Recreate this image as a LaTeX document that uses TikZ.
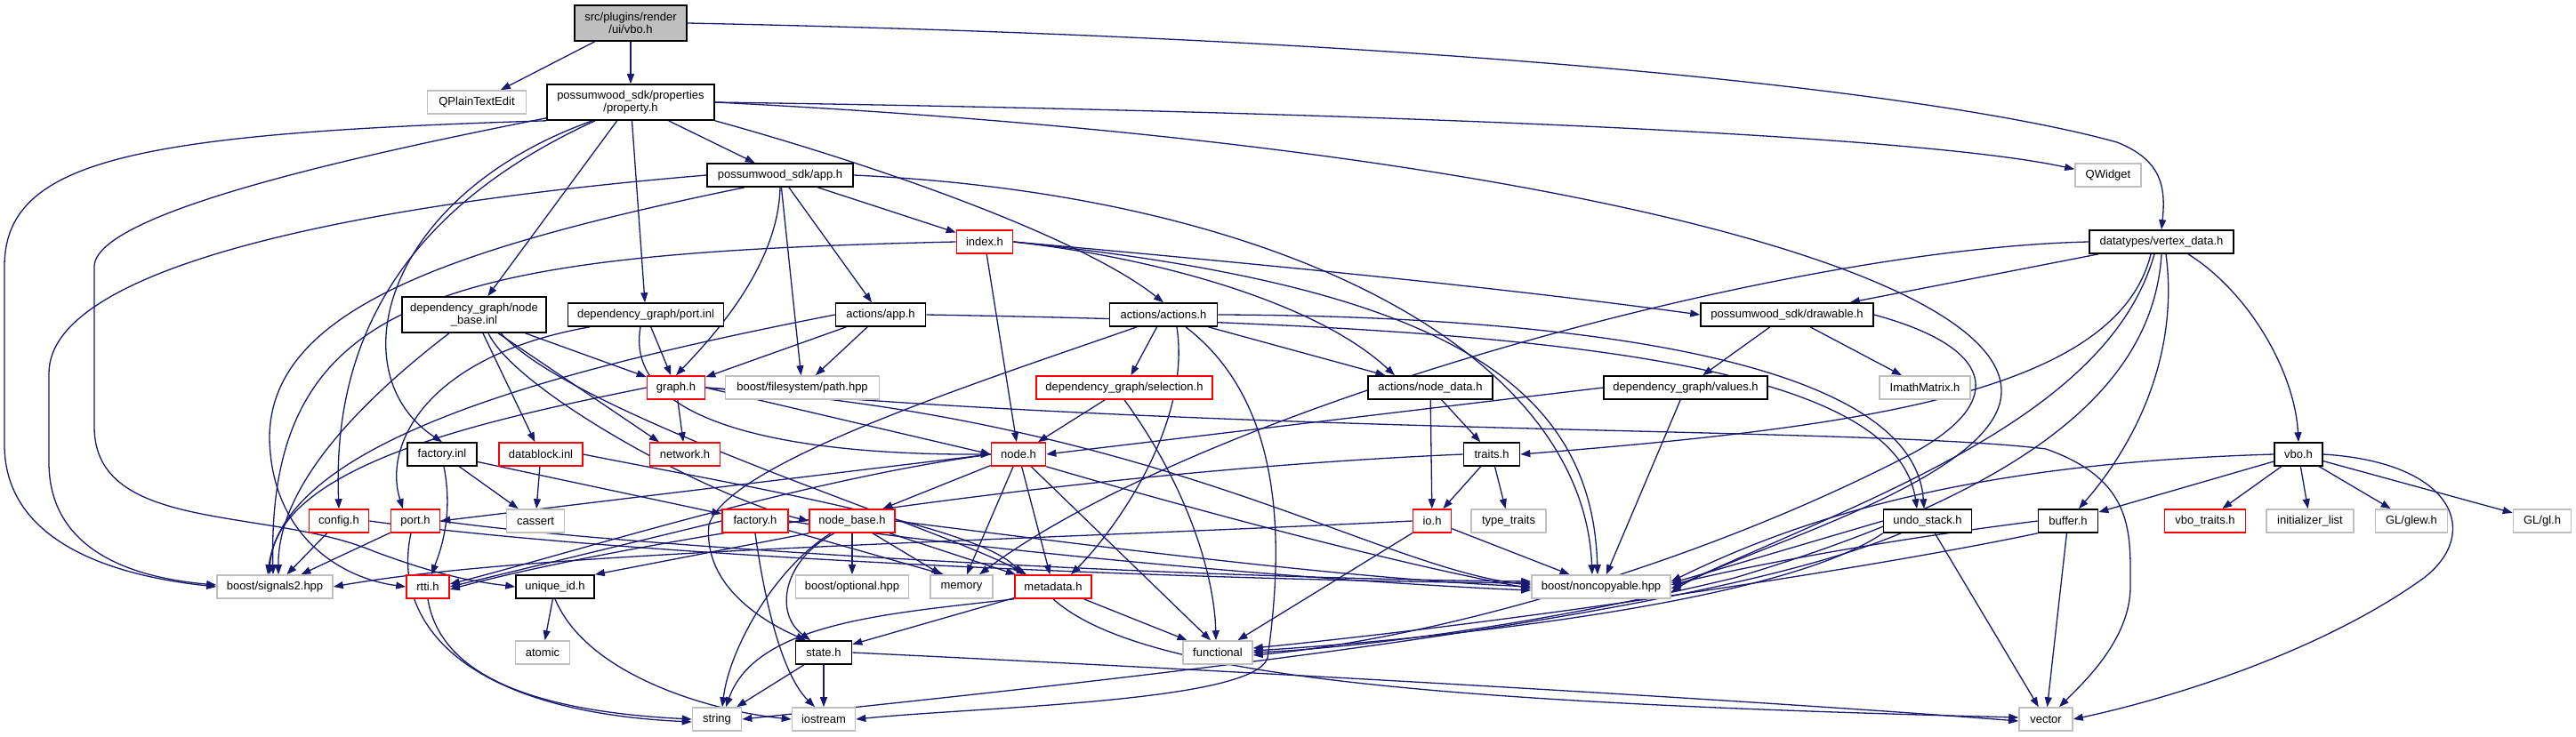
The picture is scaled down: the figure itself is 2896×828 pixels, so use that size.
\documentclass[tikz,border=0pt]{standalone}
\usepackage{fontspec}
\setmainfont{Liberation Sans}
\usetikzlibrary{arrows.meta}
\definecolor{edgec}{HTML}{191970}
\definecolor{extgray}{HTML}{BFBFBF}
\definecolor{srcfill}{HTML}{BFBFBF}
\pgfdeclarelayer{edgelayer}
\pgfsetlayers{edgelayer,main}
\begin{document}
\begin{tikzpicture}[x=1pt,y=-1pt,
  nb/.style={draw, line width=1.6pt, minimum height=26pt, inner sep=0pt, font=\fontsize{13}{14}\selectfont, align=center, fill=white},
  doc/.style={nb, draw=black},
  rbox/.style={nb, draw=red},
  ext/.style={nb, draw=extgray},
  two/.style={minimum height=40pt},
  edg/.style={draw=edgec, line width=1.3pt, -{Triangle[length=11pt,width=8pt]}},
]
\begin{pgfonlayer}{edgelayer}
\fill[white] (0,0) rectangle (2896,828);
\end{pgfonlayer}
\useasboundingbox (0,0) rectangle (2896,828);

% ---------- nodes ----------
\node[doc,two,fill=srcfill,minimum width=126pt] (src) at (709,26) {src/plugins/render\\/ui/vbo.h};
\node[ext,minimum width=111pt] (qpte) at (536,115) {QPlainTextEdit};
\node[doc,two,minimum width=188pt] (prop) at (709,115) {possumwood\_sdk/properties\\/property.h};
\node[ext,minimum width=74pt] (qw) at (2370,197) {QWidget};
\node[doc,minimum width=164pt] (app) at (877,197) {possumwood\_sdk/app.h};
\node[rbox,minimum width=63pt] (index) at (1107,272) {index.h};
\node[doc,minimum width=162pt] (vdata) at (2430,272) {datatypes/vertex\_data.h};
\node[doc,two,minimum width=162pt] (nbinl) at (533,354) {dependency\_graph/node\\\_base.inl};
\node[doc,minimum width=175pt] (portinl) at (726,354) {dependency\_graph/port.inl};
\node[doc,minimum width=101pt] (aapp) at (990,354) {actions/app.h};
\node[doc,minimum width=121pt] (aact) at (1308,354) {actions/actions.h};
\node[doc,minimum width=194pt] (draw) at (2009,354) {possumwood\_sdk/drawable.h};
\node[rbox,minimum width=65pt] (graph) at (760,436) {graph.h};
\node[ext,minimum width=173pt] (path) at (902,436) {boost/filesystem/path.hpp};
\node[rbox,minimum width=198pt] (sel) at (1264,436) {dependency\_graph/selection.h};
\node[doc,minimum width=140pt] (ndata) at (1608,436) {actions/node\_data.h};
\node[doc,minimum width=184pt] (values) at (1895,436) {dependency\_graph/values.h};
\node[ext,minimum width=102pt] (imath) at (2164,436) {ImathMatrix.h};
\node[doc,minimum width=78pt] (finl) at (497,511) {factory.inl};
\node[rbox,minimum width=94pt] (dblk) at (608,511) {datablock.inl};
\node[rbox,minimum width=79pt] (net) at (770,511) {network.h};
\node[rbox,minimum width=61pt] (nodeh) at (1145,511) {node.h};
\node[doc,minimum width=63pt] (traits) at (1677,511) {traits.h};
\node[doc,minimum width=54pt] (vboh) at (2584,511) {vbo.h};
\node[rbox,minimum width=67pt] (config) at (381,586) {config.h};
\node[rbox,minimum width=55pt] (porth) at (467,586) {port.h};
\node[ext,minimum width=65pt] (cassert) at (602,586) {cassert};
\node[rbox,minimum width=74pt] (facth) at (849,586) {factory.h};
\node[rbox,minimum width=96pt] (nbh) at (958,586) {node\_base.h};
\node[rbox,minimum width=43pt] (ioh) at (1610,586) {io.h};
\node[ext,minimum width=84pt] (tt) at (1696,586) {type\_traits};
\node[doc,minimum width=99pt] (undo) at (2167,586) {undo\_stack.h};
\node[doc,minimum width=67pt] (buffer) at (2325,586) {buffer.h};
\node[rbox,minimum width=91pt] (vbotr) at (2479,586) {vbo\_traits.h};
\node[ext,minimum width=98pt] (ilist) at (2597,586) {initializer\_list};
\node[ext,minimum width=81pt] (glew) at (2711,586) {GL/glew.h};
\node[ext,minimum width=65pt] (glh) at (2858,586) {GL/gl.h};
\node[ext,minimum width=130pt] (sig) at (309,660) {boost/signals2.hpp};
\node[rbox,minimum width=48pt] (rtti) at (481,660) {rtti.h};
\node[doc,minimum width=88pt] (uid) at (624,660) {unique\_id.h};
\node[ext,minimum width=127pt] (opt) at (958,660) {boost/optional.hpp};
\node[ext,minimum width=70pt] (mem) at (1081,660) {memory};
\node[rbox,minimum width=86pt] (meta) at (1184,660) {metadata.h};
\node[ext,minimum width=156pt] (nonc) at (1800,660) {boost/noncopyable.hpp};
\node[ext,minimum width=61pt] (atomic) at (610,734) {atomic};
\node[doc,minimum width=63pt] (nstate) at (926,734) {state.h};
\node[ext,minimum width=78pt] (func) at (1369,734) {functional};
\node[ext,minimum width=55pt] (nstring) at (806,809) {string};
\node[ext,minimum width=71pt] (iostr) at (926,809) {iostream};
\node[ext,minimum width=60pt] (vector) at (2300,809) {vector};

% ---------- edges ----------
\begin{pgfonlayer}{edgelayer}
% src
\draw[edg] (src) -- (qpte);
\draw[edg] (src) -- (prop);
\draw[edg] (src.east) .. controls (1700,45) and (2200,110) .. (2380,160) .. controls (2430,180) and (2435,210) .. (vdata.north);
% prop
\draw[edg] (prop.east) .. controls (1500,125) and (2150,150) .. (qw.170);
\draw[edg] (prop.east) .. controls (1700,160) and (2250,300) .. (2250,440) .. controls (2250,540) and (1950,620) .. ([yshift=-6pt]nonc.east);
\draw[edg] (prop) -- (app);
\draw[edg] (prop) -- (nbinl);
\draw[edg] (prop) -- (portinl);
\draw[edg] (prop.south east) .. controls (1000,190) and (1220,270) .. (aact.north);
\draw[edg] ([xshift=-43pt]prop.south) .. controls (430,220) and (380,420) .. (finl.north);
\draw[edg] ([xshift=-40pt]prop.south) .. controls (420,250) and (375,420) .. (config.north);
\draw[edg] (prop.south west) .. controls (150,150) and (5,180) .. (5,300) -- (5,500) .. controls (5,620) and (150,650) .. (sig.west);
\draw[edg] ([yshift=3pt]prop.south west) .. controls (400,175) and (106,240) .. (106,300) -- (106,480) .. controls (106,600) and (300,570) .. (420,620) .. controls (500,650) and (540,655) .. (uid.west);
% app
\draw[edg] (app) -- (index);
\draw[edg] (app) -- (aapp);
\draw[edg] (app.south) .. controls (875,300) and (800,380) .. (graph.north);
\draw[edg] (app) -- (path);
\draw[edg] (app.east) .. controls (1450,220) and (1780,400) .. ([xshift=-10pt]nonc.north);
\draw[edg] (app.west) .. controls (400,230) and (55,300) .. (55,420) -- (55,520) .. controls (55,620) and (150,650) .. ([yshift=2pt]sig.west);
\draw[edg] ([xshift=-40pt]app.south) .. controls (500,280) and (303,350) .. (303,493) .. controls (305,600) and (380,650) .. (rtti.west);
% index
\draw[edg] (index.west) .. controls (500,285) and (300,330) .. ([xshift=-2pt]sig.north);
\draw[edg] (index) -- (nodeh);
\draw[edg] (index.east) .. controls (1450,300) and (1700,325) .. (draw.west);
\draw[edg] (index.east) .. controls (1300,290) and (1480,340) .. ([xshift=-40pt]ndata.north);
\draw[edg] (index.east) .. controls (1600,320) and (1790,420) .. ([xshift=-4pt]nonc.north);
% node_base.inl
\draw[edg] ([xshift=-28pt]nbinl.south) .. controls (420,440) and (312,540) .. ([xshift=4pt]sig.north);
\draw[edg] (nbinl) -- (dblk);
\draw[edg] ([xshift=16pt]nbinl.south) .. controls (580,440) and (800,560) .. (nbh.west);
\draw[edg] ([xshift=27pt]nbinl.south) -- ([xshift=-29pt]net.north);
\draw[edg] (nbinl) -- (graph);
\draw[edg] ([xshift=30pt]nbinl.south) .. controls (650,470) and (1050,590) .. ([xshift=-30pt]meta.north);
% port.inl
\draw[edg] ([xshift=-63pt]portinl.south) .. controls (480,400) and (430,500) .. ([xshift=-14pt]porth.north);
\draw[edg] ([xshift=-6pt]portinl.south) .. controls (700,480) and (900,512) .. (nodeh.west);
\draw[edg] (portinl) -- (graph);
% actions/app.h
\draw[edg] (aapp.west) .. controls (600,420) and (320,500) .. ([xshift=-8pt]sig.north);
\draw[edg] (aapp) -- (graph);
\draw[edg] (aapp) -- (path);
\draw[edg] (aapp.east) .. controls (1700,365) and (2130,400) .. ([xshift=-12pt]undo.north);
% actions/actions.h
\draw[edg] (aact.east) .. controls (1700,355) and (2150,390) .. ([xshift=-4pt]undo.north);
\draw[edg] ([xshift=-30pt]aact.south) .. controls (1100,430) and (820,520) .. (797,590) .. controls (790,660) and (860,700) .. ([xshift=-20pt]nstate.north);
\draw[edg] (aact) -- (sel);
\draw[edg] (aact) -- (ndata);
\draw[edg] ([xshift=25pt]aact.south) .. controls (1440,450) and (1445,600) .. (1425,740) .. controls (1410,790) and (1100,795) .. (iostr.east);
\draw[edg] ([xshift=15pt]aact.south) .. controls (1340,480) and (1250,600) .. ([xshift=20pt]meta.north);
% drawable
\draw[edg] (draw) -- (values);
\draw[edg] (draw) -- (imath);
\draw[edg] (draw.east) .. controls (2240,390) and (2260,450) .. (2150,510) .. controls (1900,640) and (1600,720) .. ([yshift=-3pt]func.east);
% vertex_data
\draw[edg] (vdata) -- (draw);
\draw[edg] (vdata.west) .. controls (2000,280) and (1350,460) .. ([xshift=20pt]mem.north);
\draw[edg] ([xshift=-12pt]vdata.south) .. controls (2380,440) and (2100,480) .. (traits.east);
\draw[edg] ([xshift=-8pt]vdata.south) .. controls (2370,470) and (2100,560) .. ([yshift=-2pt]nonc.east);
\draw[edg] (vdata.south) .. controls (2420,450) and (2250,560) .. (1950,650) .. controls (1700,710) and (1500,730) .. (func.east);
\draw[edg] ([xshift=5pt]vdata.south) .. controls (2450,400) and (2400,500) .. ([xshift=12pt]buffer.north);
\draw[edg] ([xshift=30pt]vdata.south) .. controls (2530,330) and (2580,420) .. (vboh.north);
% graph
\draw[edg] (graph) -- (net);
\draw[edg] (graph.west) .. controls (560,470) and (310,520) .. ([xshift=-6pt]sig.north);
\draw[edg] (graph.east) -- (nodeh.west);
\draw[edg] (graph.east) .. controls (1300,470) and (1550,640) .. ([yshift=2pt]nonc.west);
\draw[edg] (graph.east) .. controls (1400,490) and (2100,480) .. (2300,505) .. controls (2400,540) and (2395,600) .. (2395,660) .. controls (2395,720) and (2340,770) .. ([xshift=15pt]vector.north);
% factory.inl
\draw[edg] (finl) -- (cassert);
\draw[edg] ([xshift=2pt]finl.south) .. controls (510,580) and (495,620) .. ([xshift=4pt]rtti.north);
\draw[edg] (finl) -- (facth);
% datablock.inl
\draw[edg] (dblk) -- (cassert);
\draw[edg] (dblk.east) .. controls (800,540) and (1100,590) .. ([xshift=-35pt]meta.north);
% node.h
\draw[edg] (nodeh) -- (nbh);
\draw[edg] (nodeh) -- (mem);
\draw[edg] (nodeh) -- (meta);
\draw[edg] (nodeh) -- ([xshift=-8pt]func.north);
\draw[edg] (nodeh.south east) .. controls (1400,590) and (1600,640) .. ([yshift=-2pt]nonc.west);
\draw[edg] (nodeh.west) -- (porth.east);
\draw[edg] (nodeh.west) .. controls (900,540) and (650,620) .. ([yshift=3pt]rtti.east);
% selection.h
\draw[edg] (sel) -- (nodeh);
\draw[edg] (sel.south) .. controls (1330,540) and (1365,640) .. ([xshift=-2pt]func.north);
% node_data.h, values.h, traits.h, io.h
\draw[edg] (ndata) -- (ioh);
\draw[edg] (ndata) -- (traits);
\draw[edg] (values.west) -- (nodeh.east);
\draw[edg] (values) -- (nonc);
\draw[edg] (traits) -- (ioh);
\draw[edg] (traits) -- (tt);
\draw[edg] (traits.west) .. controls (1200,530) and (700,610) .. ([yshift=-3pt]rtti.east);
\draw[edg] (ioh) -- (nonc);
\draw[edg] (ioh) -- (func);
\draw[edg] (ioh.west) .. controls (1100,610) and (600,620) .. (sig.east);
% config.h, port.h, rtti.h, unique_id.h
\draw[edg] (config) -- (sig);
\draw[edg] (config.east) .. controls (700,625) and (1300,652) .. ([yshift=4pt]nonc.west);
\draw[edg] (porth) -- (sig);
\draw[edg] (porth.east) .. controls (700,615) and (1300,650) .. ([yshift=6pt]nonc.west);
\draw[edg] ([xshift=-5pt]porth.south) .. controls (440,700) and (520,800) .. ([yshift=-3pt]nstring.west);
\draw[edg] (rtti.south) .. controls (495,760) and (600,800) .. (nstring.west);
\draw[edg] (uid) -- (atomic);
\draw[edg] (uid.south) .. controls (660,760) and (800,800) .. (iostr.west);
% factory.h
\draw[edg] (facth.west) -- (rtti.east);
\draw[edg] (facth.south) .. controls (860,680) and (880,760) .. ([xshift=-10pt]iostr.north);
\draw[edg] (facth) -- ([xshift=-20pt]mem.north);
\draw[edg] (facth.east) .. controls (1100,620) and (1500,655) .. ([yshift=-4pt]nonc.west);
% node_base.h
\draw[edg] (nbh) -- (opt);
\draw[edg] (nbh) -- (mem);
\draw[edg] (nbh) -- (meta);
\draw[edg] (nbh.east) .. controls (1200,610) and (1500,650) .. (nonc.west);
\draw[edg] (nbh.south west) -- (uid.north east);
\draw[edg] ([xshift=-20pt]nbh.south) .. controls (880,630) and (870,690) .. ([xshift=-15pt]nstate.north);
\draw[edg] ([xshift=-24pt]nbh.south) .. controls (870,640) and (820,730) .. ([xshift=6pt]nstring.north);
% metadata.h
\draw[edg] (meta) -- (nstate);
\draw[edg] (meta.south west) .. controls (1000,690) and (850,700) .. ([xshift=10pt]nstring.north);
\draw[edg] (meta) -- (func);
\draw[edg] (meta.south) .. controls (1280,760) and (1600,790) .. ([yshift=2pt]vector.west);
% state.h
\draw[edg] (nstate) -- (nstring);
\draw[edg] (nstate) -- (iostr);
\draw[edg] (nstate.east) .. controls (1500,760) and (2000,790) .. ([yshift=-2pt]vector.west);
% undo_stack.h
\draw[edg] (undo) -- (vector);
\draw[edg] (undo.west) -- ([yshift=4pt]nonc.east);
\draw[edg] (undo.south west) .. controls (2000,680) and (1600,720) .. ([yshift=2pt]func.east);
\draw[edg] ([xshift=-30pt]undo.south) .. controls (1900,700) and (1200,770) .. (nstring.east);
% buffer.h
\draw[edg] (buffer) -- (vector);
\draw[edg] (buffer.west) .. controls (2100,610) and (1950,640) .. ([yshift=2pt]nonc.east);
\draw[edg] (buffer.south west) .. controls (2100,640) and (1700,700) .. ([yshift=5pt]func.east);
% vbo.h
\draw[edg] (vboh) -- (buffer);
\draw[edg] (vboh) -- (vbotr);
\draw[edg] (vboh) -- (ilist);
\draw[edg] (vboh) -- (glew);
\draw[edg] (vboh) -- (glh);
\draw[edg] (vboh.east) .. controls (2760,520) and (2790,600) .. (2725,650) .. controls (2600,740) and (2420,790) .. (vector.east);
\draw[edg] (vboh.west) .. controls (2250,520) and (2050,570) .. ([yshift=6pt]nonc.east);
\end{pgfonlayer}
\end{tikzpicture}
\end{document}
